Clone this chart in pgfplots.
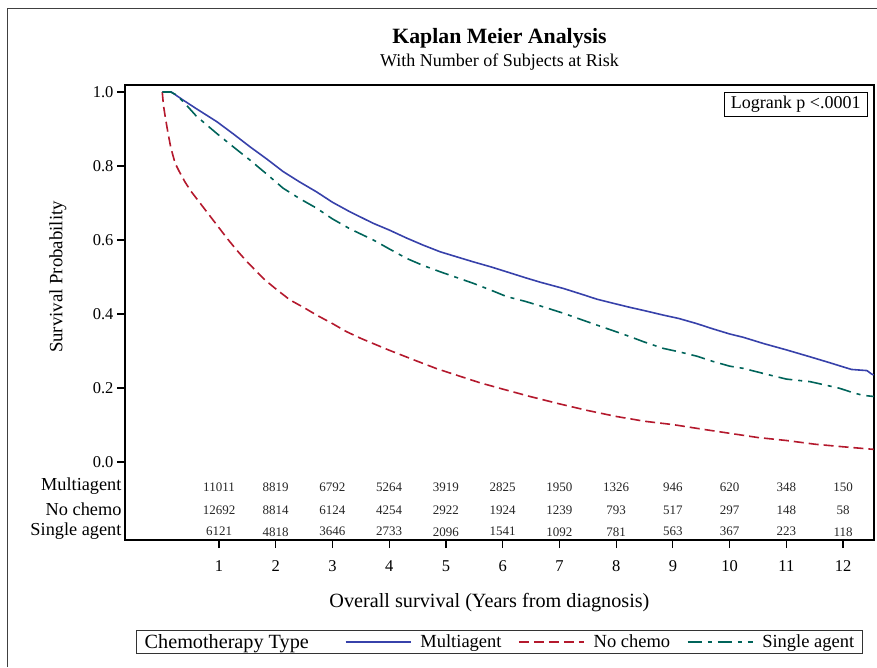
\documentclass[border=0pt]{standalone}
\usepackage{fontspec}
\setmainfont{Liberation Serif}
\usepackage{pgfplots}
\usepackage{pgfplotstable}
\pgfplotsset{compat=1.18}

\definecolor{kmblue}{RGB}{55,65,170}
\definecolor{kmred}{RGB}{180,25,45}
\definecolor{kmteal}{RGB}{0,100,90}
\newcommand\fs[1]{\fontsize{#1}{#1}\selectfont}

% survival curves (years, probability)
\pgfplotstableread{
t s
0 1.000
0.16 1.000
0.37 0.978
0.6 0.955
0.96 0.920
1.25 0.887
1.546 0.852
1.85 0.818
2.13 0.785
2.42 0.757
2.72 0.730
3.0 0.702
3.31 0.676
3.72 0.645
4.0 0.627
4.31 0.605
4.6 0.586
4.9 0.568
5.2 0.554
5.48 0.541
5.8 0.527
6.07 0.514
6.4 0.498
6.66 0.486
7.07 0.469
7.4 0.453
7.66 0.440
8.0 0.427
8.24 0.418
8.5 0.409
8.83 0.397
9.1 0.388
9.42 0.374
9.7 0.360
10.0 0.346
10.24 0.337
10.6 0.320
11.0 0.303
11.4 0.285
11.77 0.268
12.0 0.257
12.15 0.250
12.42 0.247
12.5 0.238
12.54 0.235
}\multi

\pgfplotstableread{
t s
0 1.000
0.02 0.965
0.05 0.935
0.1 0.890
0.15 0.850
0.225 0.808
0.3 0.785
0.4 0.757
0.5 0.733
0.665 0.700
0.8 0.673
1.0 0.633
1.15 0.603
1.31 0.573
1.5 0.540
1.81 0.492
2.0 0.468
2.25 0.438
2.5 0.417
2.72 0.397
3.0 0.374
3.25 0.352
3.5 0.334
4.0 0.302
4.5 0.272
4.84 0.252
5.2 0.234
5.6 0.214
6.0 0.197
6.48 0.177
7.0 0.157
7.5 0.139
8.0 0.123
8.5 0.110
9.0 0.101
9.5 0.089
10.0 0.0775
10.5 0.066
11.0 0.058
11.5 0.048
12.0 0.041
12.54 0.034
}\nochemo

\pgfplotstableread{
t s
0 1.000
0.15 1.000
0.25 0.992
0.37 0.974
0.6 0.935
0.96 0.888
1.25 0.852
1.546 0.816
1.85 0.777
2.13 0.740
2.42 0.712
2.72 0.686
3.0 0.657
3.31 0.630
3.72 0.600
4.0 0.576
4.31 0.550
4.6 0.531
4.9 0.514
5.2 0.498
5.48 0.483
5.8 0.464
6.07 0.447
6.4 0.434
6.66 0.422
7.07 0.402
7.4 0.384
7.66 0.370
8.0 0.352
8.24 0.339
8.5 0.324
8.83 0.307
9.1 0.298
9.42 0.286
9.7 0.272
10.0 0.259
10.24 0.253
10.6 0.239
11.0 0.224
11.42 0.217
11.77 0.205
11.94 0.199
12.18 0.187
12.35 0.180
12.54 0.177
}\single

% number of subjects at risk (row placed at y below 0)
\pgfplotstableread{
t y n
1 -0.0667 11011
2 -0.0667 8819
3 -0.0667 6792
4 -0.0667 5264
5 -0.0667 3919
6 -0.0667 2825
7 -0.0667 1950
8 -0.0667 1326
9 -0.0667 946
10 -0.0667 620
11 -0.0667 348
12 -0.0667 150
}\riskmulti

\pgfplotstableread{
t y n
1 -0.127 12692
2 -0.127 8814
3 -0.127 6124
4 -0.127 4254
5 -0.127 2922
6 -0.127 1924
7 -0.127 1239
8 -0.127 793
9 -0.127 517
10 -0.127 297
11 -0.127 148
12 -0.127 58
}\risknochemo

\pgfplotstableread{
t y n
1 -0.186 6121
2 -0.186 4818
3 -0.186 3646
4 -0.186 2733
5 -0.186 2096
6 -0.186 1541
7 -0.186 1092
8 -0.186 781
9 -0.186 563
10 -0.186 367
11 -0.186 223
12 -0.186 118
}\risksingle

\begin{document}
\begin{tikzpicture}
\useasboundingbox (0,0) rectangle (877pt,667pt);
\draw[line width=1pt, black!75] (7.5pt,0pt) -- (7.5pt,658pt) -- (877pt,658pt);

\begin{axis}[
    at={(125pt,127pt)}, anchor=south west,
    scale only axis, width=749pt, height=455pt,
    xmin=-0.657, xmax=12.545, ymin=-0.211, ymax=1.019,
    clip=false,
    axis line style={line width=1.4pt},
    xtick={1,...,12}, ytick={0,0.2,0.4,0.6,0.8,1.0},
    xtick pos=left, ytick pos=left,
    tick align=outside, major tick length=8pt,
    tick style={line width=1.2pt, black},
    ticklabel style={font=\fs{16.5}},
    xticklabel style={yshift=-9pt},
    /pgf/number format/assume math mode=true,
    yticklabel style={/pgf/number format/fixed, /pgf/number format/fixed zerofill,
        /pgf/number format/precision=1},
    extra y ticks={-0.0667,-0.127,-0.186},
    extra y tick labels={Multiagent,No chemo,Single agent},
    extra y tick style={major tick length=0pt, yticklabel style={font=\fs{18.3}}},
    xlabel={Overall survival (Years from diagnosis)},
    xlabel style={font=\fs{20.2}, at={(axis description cs:0.4866,-0.138)}, anchor=center},
    ylabel={Survival Probability},
    ylabel style={font=\fs{18.8}, at={(axis description cs:-0.0895,0.578)}, anchor=center},
    legend columns=-1,
    legend image code/.code={\draw[#1] (0pt,0pt) -- (65pt,0pt); \path (72pt,0pt);},
    legend style={at={(axis description cs:0.5,-0.224)}, anchor=center,
        draw=black!80, line width=0.8pt, font=\fs{18.5}, inner xsep=6.5pt,
        /tikz/every even column/.append style={column sep=14.5pt}},
]
\addlegendimage{empty legend}
\addlegendentry{\fs{20.2}Chemotherapy Type\rule{19.5pt}{0pt}}

\addplot[kmblue, line width=1.6pt] table[x=t, y=s] {\multi};
\addlegendentry{Multiagent}
\addplot[kmred, line width=1.6pt, dash pattern=on 10pt off 5pt] table[x=t, y=s] {\nochemo};
\addlegendentry{No chemo}
\addplot[kmteal, line width=1.6pt, dash pattern=on 14pt off 6pt on 4pt off 6pt] table[x=t, y=s] {\single};
\addlegendentry{Single agent}

\pgfplotsset{risk/.style={draw=none, mark=none, forget plot, nodes near coords,
    point meta=explicit symbolic,
    every node near coord/.append style={anchor=center, font=\fs{13}, text=black!85, yshift=-1pt}}}
\addplot[risk] table[x=t, y=y, meta=n] {\riskmulti};
\addplot[risk] table[x=t, y=y, meta=n] {\risknochemo};
\addplot[risk] table[x=t, y=y, meta=n] {\risksingle};

\node[draw=black, line width=0.8pt, anchor=north east, font=\fs{18}, inner xsep=7pt, inner ysep=4pt]
    at (axis description cs:0.992,0.9846) {Logrank p <.0001};
\end{axis}

\node[font=\bfseries\fs{21.8}] at (499.5pt,629pt) {Kaplan Meier Analysis};
\node[font=\fs{18}] at (499.5pt,605pt) {With Number of Subjects at Risk};
\end{tikzpicture}
\end{document}
